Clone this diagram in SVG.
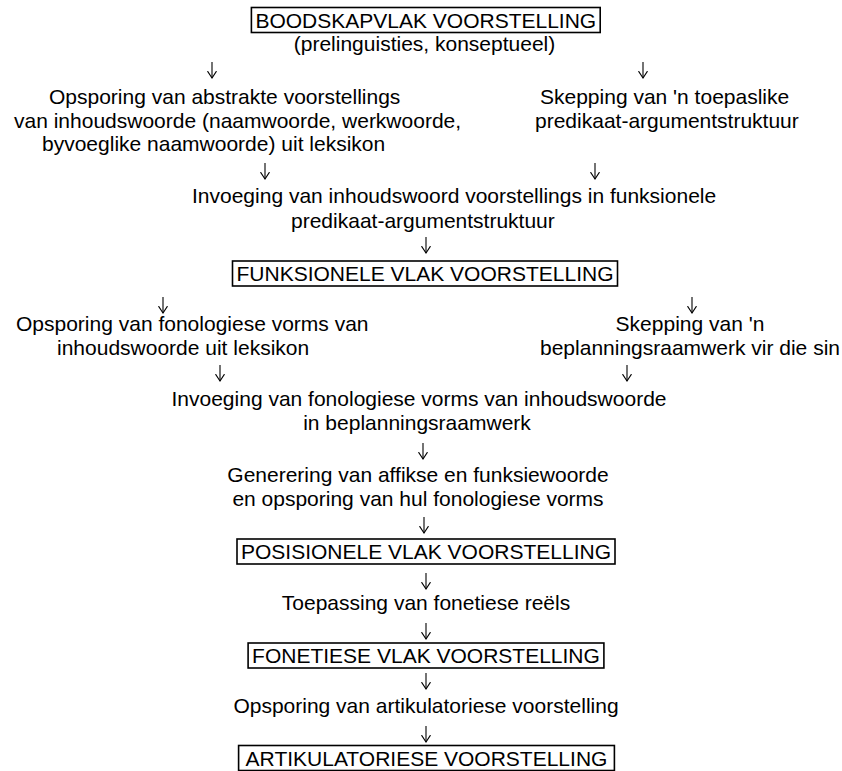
<svg xmlns="http://www.w3.org/2000/svg" width="842" height="771" viewBox="0 0 842 771">
<style>
text{font-family:"Liberation Sans",Arial,sans-serif;font-size:21px;fill:#000}
.c{text-anchor:middle}
.box{fill:none;stroke:#000;stroke-width:1.6}
.arr{fill:none;stroke:#000;stroke-width:1.1;marker-end:url(#ah)}
</style>
<defs>
<marker id="ah" viewBox="0 0 8 10" refX="7.4" refY="5" markerWidth="8" markerHeight="10" markerUnits="userSpaceOnUse" orient="auto">
<path d="M0.5,0.5 L7.4,5 L0.5,9.5" fill="none" stroke="#000" stroke-width="1.1"/>
</marker>
</defs>
<rect width="842" height="771" fill="#fff"/>

<g id="n1"><rect class="box" x="251.4" y="7.5" width="348.8" height="25"/><text class="c" x="425.8" y="27.5">BOODSKAPVLAK VOORSTELLING</text></g>
<g id="n1b"><text class="c" x="424.5" y="50.5">(prelinguisties, konseptueel)</text></g>

<g id="n2"><text x="49" y="104">Opsporing van abstrakte voorstellings</text><text x="14" y="128">van inhoudswoorde (naamwoorde, werkwoorde,</text><text x="42" y="151">byvoeglike naamwoorde) uit leksikon</text></g>
<g id="n3"><text x="540" y="104">Skepping van 'n toepaslike</text><text x="535" y="128">predikaat-argumentstruktuur</text></g>

<g id="n4"><text x="192" y="203">Invoeging van inhoudswoord voorstellings in funksionele</text><text x="291" y="228">predikaat-argumentstruktuur</text></g>

<g id="n5"><rect class="box" x="232.5" y="261" width="385" height="25"/><text class="c" x="425" y="281">FUNKSIONELE VLAK VOORSTELLING</text></g>

<g id="n6"><text x="16" y="331">Opsporing van fonologiese vorms van</text><text x="57" y="355">inhoudswoorde uit leksikon</text></g>
<g id="n7"><text class="c" x="690" y="331">Skepping van 'n</text><text class="c" x="690" y="355">beplanningsraamwerk vir die sin</text></g>

<g id="n8"><text class="c" x="419" y="406">Invoeging van fonologiese vorms van inhoudswoorde</text><text class="c" x="417" y="430">in beplanningsraamwerk</text></g>

<g id="n9"><text class="c" x="418" y="482">Generering van affikse en funksiewoorde</text><text class="c" x="418" y="506">en opsporing van hul fonologiese vorms</text></g>

<g id="n10"><rect class="box" x="237" y="539" width="378" height="25"/><text class="c" x="426" y="559">POSISIONELE VLAK VOORSTELLING</text></g>

<g id="n11"><text class="c" x="426" y="610">Toepassing van fonetiese reëls</text></g>

<g id="n12"><rect class="box" x="248.1" y="643" width="355.8" height="25"/><text class="c" x="426" y="663">FONETIESE VLAK VOORSTELLING</text></g>

<g id="n13"><text class="c" x="426" y="713">Opsporing van artikulatoriese voorstelling</text></g>

<g id="n14"><rect class="box" x="238.6" y="745.5" width="375.8" height="25"/><text class="c" x="426.5" y="765.5">ARTIKULATORIESE VOORSTELLING</text></g>

<g id="connectors">
<path class="arr" d="M212,62 V78"/>
<path class="arr" d="M643,62 V78"/>
<path class="arr" d="M265,163 V179"/>
<path class="arr" d="M595,163 V179"/>
<path class="arr" d="M426,237 V253"/>
<path class="arr" d="M163,297 V313"/>
<path class="arr" d="M692,297 V313"/>
<path class="arr" d="M220,365 V381"/>
<path class="arr" d="M627,365 V381"/>
<path class="arr" d="M423,443 V459"/>
<path class="arr" d="M424,517 V533"/>
<path class="arr" d="M426,573 V589"/>
<path class="arr" d="M426,623 V639"/>
<path class="arr" d="M426,673 V689"/>
<path class="arr" d="M426,726 V742"/>
</g>
</svg>
